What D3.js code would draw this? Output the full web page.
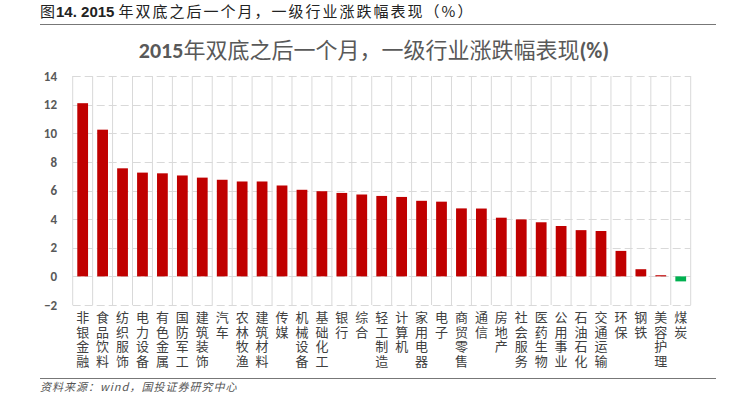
<!DOCTYPE html>
<html>
<head>
<meta charset="utf-8">
<script src="https://cdn.jsdelivr.net/npm/d3@7"></script>
<style>
  body { margin: 0; background: #fff; }
  svg { display: block; }
</style>
</head>
<body>
<div id="chart"></div>
<script>
// Data
const industries = ['非银金融', '食品饮料', '纺织服饰', '电力设备', '有色金属', '国防军工', '建筑装饰', '汽车',
    '农林牧渔', '建筑材料', '传媒', '机械设备', '基础化工', '银行', '综合', '轻工制造', '计算机', '家用电器',
    '电子', '商贸零售', '通信', '房地产', '社会服务', '医药生物', '公用事业', '石油石化', '交通运输', '环保',
    '钢铁', '美容护理', '煤炭']
const changes = [12.1, 10.25, 7.55, 7.25, 7.2, 7.05, 6.9, 6.75, 6.63, 6.63, 6.35, 6.05, 5.95, 5.83, 5.72,
    5.62, 5.55, 5.28, 5.22, 4.75, 4.74, 4.1, 3.98, 3.78, 3.52, 3.23, 3.17, 1.78, 0.5, 0.08, -0.35]
const yTicks = [-2, 0, 2, 4, 6, 8, 10, 12, 14]

const data = industries.map((d, i) => ({ name: d, value: changes[i] }))

// Constants
const width = 733
const height = 393
const plot = { left: 72.7, right: 690.7, top: 76, bottom: 305 }
const grey = '#595959'
const gridColor = '#d9d9d9'

const svg = d3.select('#chart')
    .append('svg')
    .attr('width', width)
    .attr('height', height)

// Header
const header = svg.append('text')
    .attr('x', 40)
    .attr('y', 17)
    .style('font-family', '"Noto Sans CJK SC", sans-serif')
    .style('font-size', '15px')
    .attr('fill', '#222')
header.append('tspan').text('图').style('letter-spacing', '1px')
header.append('tspan').text('14. 2015 ').style('font-weight', 'bold').style('font-family', 'Arial, "Liberation Sans", sans-serif')
header.append('tspan').text('年双底之后一个月，一级行业涨跌幅表现（%）').style('letter-spacing', '2px')

svg.append('line')
    .attr('x1', 40).attr('x2', 716)
    .attr('y1', 24.5).attr('y2', 24.5)
    .attr('stroke', '#777')
    .attr('stroke-width', 1.2)

svg.append('line')
    .attr('x1', 40).attr('x2', 716)
    .attr('y1', 378.5).attr('y2', 378.5)
    .attr('stroke', '#777')
    .attr('stroke-width', 1.2)

svg.append('text')
    .attr('x', 40)
    .attr('y', 391)
    .style('font-family', '"Noto Sans CJK SC", sans-serif')
    .style('font-size', '11px')
    .style('font-style', 'italic')
    .style('letter-spacing', '1px')
    .attr('fill', '#555')
    .text('资料来源：wind，国投证券研究中心')

// Chart title
const title = svg.append('text')
    .attr('x', 374)
    .attr('y', 58)
    .attr('text-anchor', 'middle')
    .style('font-family', '"Noto Sans CJK SC", sans-serif')
    .style('font-size', '22px')
    .attr('fill', grey)
title.append('tspan').text('2015').style('font-weight', 'bold').style('font-family', 'Carlito, "Liberation Sans", sans-serif')
title.append('tspan').text('年双底之后一个月，一级行业涨跌幅表现')
title.append('tspan').text('(%)').style('font-weight', 'bold').style('font-family', 'Carlito, "Liberation Sans", sans-serif')

// Scales
const x = d3.scaleBand()
    .domain(industries)
    .range([plot.left, plot.right])
    .paddingInner(0.46)
    .paddingOuter(0.23)

const y = d3.scaleLinear()
    .domain([-2, 14])
    .range([plot.bottom, plot.top])

// Grid
const grid = svg.append('g')
grid.selectAll('.hgrid')
    .data(yTicks)
    .enter()
    .append('line')
    .attr('x1', plot.left).attr('x2', plot.right)
    .attr('y1', d => Math.round(y(d)) + 0.5)
    .attr('y2', d => Math.round(y(d)) + 0.5)
    .attr('stroke', gridColor)
    .attr('stroke-width', 1)
    .attr('stroke-dasharray', '8,4')

grid.selectAll('.vgrid')
    .data(d3.range(industries.length + 1))
    .enter()
    .append('line')
    .attr('x1', i => plot.left + i * x.step())
    .attr('x2', i => plot.left + i * x.step())
    .attr('y1', plot.top).attr('y2', plot.bottom)
    .attr('stroke', gridColor)
    .attr('stroke-width', 1)

// Y axis
const yAxis = d3.axisLeft(y).tickValues(yTicks).tickSize(0).tickPadding(0)
const yAxisGroup = svg.append('g')
    .attr('transform', 'translate(57, 0)')
    .call(yAxis)
yAxisGroup.select('.domain').remove()
yAxisGroup.selectAll('text')
    .style('font-family', 'Carlito, "Liberation Sans", sans-serif')
    .style('font-size', '13px')
    .style('font-weight', 'bold')
    .attr('fill', grey)

// Bars
svg.append('g')
    .selectAll('rect')
    .data(data)
    .enter()
    .append('rect')
    .attr('x', d => x(d.name))
    .attr('width', x.bandwidth())
    .attr('y', d => y(Math.max(0, d.value)))
    .attr('height', d => Math.abs(y(d.value) - y(0)))
    .attr('fill', d => d.value >= 0 ? '#c00000' : '#00b050')

// X labels, written top to bottom
svg.append('g')
    .selectAll('text')
    .data(data)
    .enter()
    .append('text')
    .attr('x', d => x(d.name) + x.bandwidth() / 2)
    .attr('y', 310.5)
    .style('writing-mode', 'vertical-rl')
    .style('font-family', '"Noto Sans CJK SC", sans-serif')
    .style('font-size', '13px')
    .style('letter-spacing', '1.7px')
    .attr('fill', '#404040')
    .text(d => d.name)
</script>
</body>
</html>
